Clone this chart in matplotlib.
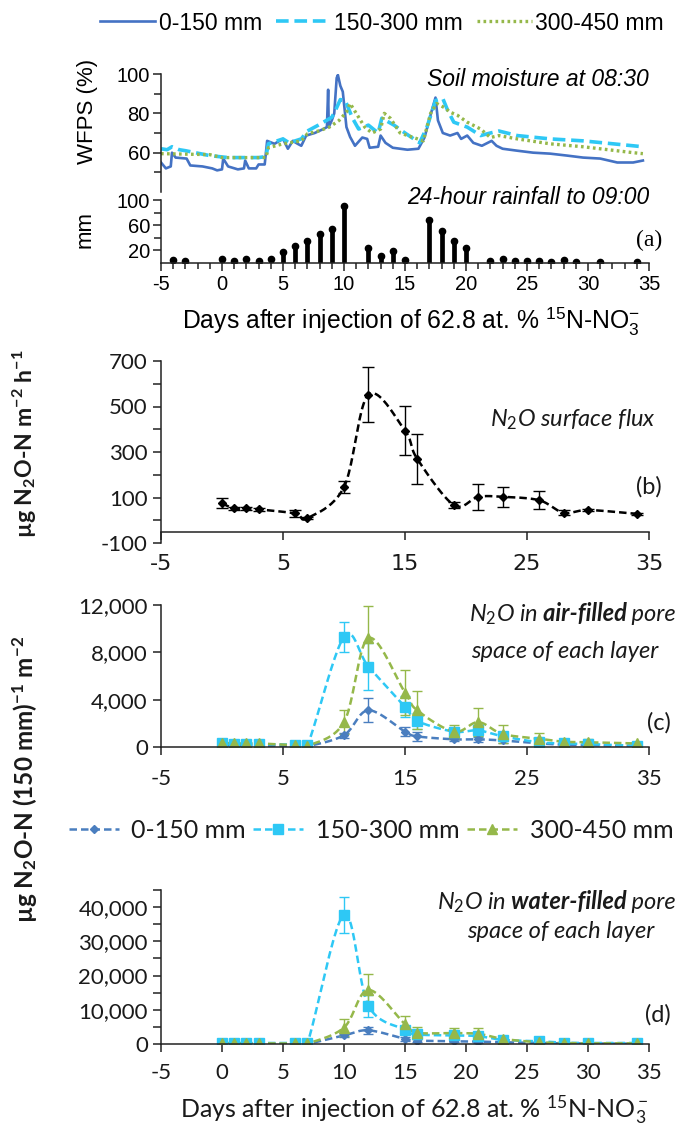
import numpy as np
import matplotlib
matplotlib.use("Agg")
import matplotlib.pyplot as plt
from matplotlib.ticker import MultipleLocator, FixedLocator, FuncFormatter
from matplotlib.lines import Line2D

plt.rcParams['mathtext.fontset'] = 'custom'
plt.rcParams['mathtext.rm'] = 'Lato'
plt.rcParams['mathtext.it'] = 'Lato:italic'
plt.rcParams['mathtext.bf'] = 'Lato:bold'
plt.rcParams['mathtext.sf'] = 'Liberation Sans'
plt.rcParams['axes.unicode_minus'] = False

# ---------------- data ----------------
# (a) WFPS (%) knots (day, value)
wfps_0150_day = [-5, -4.6, -4.2, -4.1, -3.8, -2.9, -2.6, -1.6, -0.8, -0.4, 0.0, 0.1, 0.5, 1.3, 1.8, 1.9, 2.2,
                 2.8, 3.0, 3.5, 3.7, 4.3, 5.0, 5.4, 5.8, 6.2, 6.5, 6.9, 7.6, 8.3, 8.6, 8.7, 8.75, 9.0, 9.2,
                 9.4, 9.5, 9.7, 9.9, 10.2, 10.5, 10.9, 11.5, 11.9, 12.1, 12.8, 13.0, 13.4, 14.0, 15.2, 16.1,
                 16.6, 17.2, 17.5, 17.7, 18.1, 18.7, 19.3, 19.6, 20.1, 20.6, 21.3, 22.1, 22.5, 23.0, 24.2,
                 25.5, 26.9, 28.3, 29.6, 31.0, 32.4, 33.7, 34.5]
wfps_0150 = [55, 52, 53, 60, 57.5, 57, 53.5, 53, 52, 51, 51.5, 57, 53, 51.5, 52, 56, 52,
             52, 54, 54, 66, 64.5, 67, 62, 66, 64.5, 63.5, 68.7, 70, 72, 73, 92, 73, 76.4, 80,
             98, 99.5, 94, 91, 73, 68, 63.5, 67.7, 67, 62.5, 63, 68.7, 65, 62.5, 61.5, 62,
             67.7, 81.5, 88, 76.4, 70, 68.7, 70, 67, 68.7, 65, 63.5, 66, 63.5, 62, 61,
             60, 59.5, 58.5, 57.5, 57, 55, 55, 56]
wfps_150300_day = [-5, -4.5, -4.1, -3.5, -3.0, -1.0, 0.5, 3.0, 3.6, 3.8, 5.0, 5.5, 6.5, 7.0, 7.9, 9.0, 9.3,
                   9.7, 10.1, 10.7, 11.2, 12.0, 12.8, 13.1, 14.1, 15.0, 16.2, 16.8, 17.5, 18.1, 18.5, 19.0,
                   20.1, 21.2, 22.0, 22.7, 24.2, 26.9, 29.6, 33.7, 34.5]
wfps_150300 = [62, 61.5, 63, 61.5, 61, 58.5, 57.5, 57.5, 58, 64.5, 67, 65, 67, 71, 74, 78, 81.5,
               87, 86.5, 77.5, 72, 74, 70, 77.5, 74, 70, 65, 73, 86.5, 87.5, 81.5, 75.5,
               73, 68.7, 70, 71, 68.7, 67, 66, 63.5, 63]
wfps_300450_day = [-5, -1.0, 0.0, 3.0, 3.6, 3.8, 5.0, 6.5, 7.0, 7.9, 8.8, 9.6, 10.2, 10.5, 11.1, 11.7, 12.3,
                   13.0, 13.3, 13.8, 14.6, 15.7, 16.5, 17.1, 17.6, 18.2, 18.7, 19.3, 20.1, 21.2, 22.0,
                   22.7, 24.2, 26.9, 29.6, 33.7, 34.5]
wfps_300450 = [59.5, 59, 57.5, 57.5, 57.5, 62.5, 64.5, 66, 69.6, 71, 73, 76.4, 80.6, 85, 79, 73, 70,
               72, 80, 77.5, 70, 67.7, 66, 80, 85, 83, 80.6, 79, 75.5, 72, 67.7,
               68.7, 67, 64.5, 63, 60, 59.5]

# (a) 24-hour rainfall (mm)
rain_day = [-4, -3, 0, 1, 2, 3, 4, 5, 6, 7, 8, 9, 10, 12, 13, 14, 15, 17, 18, 19, 20,
            22, 23, 24, 25, 26, 27, 28, 29, 31, 34]
rain_mm = [4, 3, 6, 3, 6, 2, 6, 17, 26, 34, 46, 53, 90, 24, 11, 18, 4, 68, 50, 35, 23,
           2, 6, 2, 2, 2, 1, 4, 1, 1, 1]

# (b)-(d) sampling days
days = [0, 1, 2, 3, 6, 7, 10, 12, 15, 16, 19, 21, 23, 26, 28, 30, 34]

# (b) N2O surface flux
flux = [74, 52, 52, 48, 30, 9, 146, 552, 393, 270, 67, 103, 103, 88, 33, 45, 28]
flux_err = [22, 8, 8, 8, 15, 5, 25, 120, 108, 111, 12, 56, 44, 40, 12, 6, 5]

# (c) N2O in air-filled pore space
c_0150 = [150, 120, 120, 120, 80, 60, 1000, 3100, 1300, 900, 650, 650, 550, 300, 200, 150, 100]
c_0150_err = [50, 30, 30, 30, 20, 20, 200, 1000, 400, 400, 150, 200, 200, 100, 50, 50, 30]
c_150300 = [300, 250, 250, 250, 200, 150, 9300, 6800, 3400, 2200, 1300, 1400, 900, 400, 300, 250, 100]
c_150300_err = [100, 80, 80, 80, 50, 50, 1300, 2000, 900, 700, 300, 500, 300, 150, 80, 80, 30]
c_300450 = [350, 300, 300, 300, 150, 100, 2100, 9200, 4600, 3100, 1300, 2100, 1100, 700, 450, 400, 300]
c_300450_err = [100, 80, 80, 80, 50, 50, 1000, 2700, 1900, 1600, 600, 1200, 800, 500, 200, 300, 100]

# (d) N2O in water-filled pore space
d_0150 = [100, 80, 80, 80, 60, 50, 2500, 4000, 1500, 1000, 800, 700, 500, 300, 200, 150, 100]
d_0150_err = [50, 30, 30, 30, 20, 20, 500, 1000, 500, 400, 300, 300, 200, 100, 50, 50, 30]
d_150300 = [300, 300, 300, 300, 300, 300, 37800, 11200, 4200, 2800, 2500, 2300, 1200, 800, 400, 300, 300]
d_150300_err = [100, 100, 100, 100, 100, 100, 5300, 3200, 800, 600, 500, 500, 300, 200, 100, 100, 100]
d_300450 = [200, 200, 200, 200, 150, 150, 4800, 15800, 5800, 3300, 3200, 3000, 1500, 500, 300, 200, 200]
d_300450_err = [100, 100, 100, 100, 50, 50, 2500, 4600, 2500, 1800, 1500, 1700, 800, 300, 100, 100, 100]

layer_labels = ['0-150 mm', '150-300 mm', '300-450 mm']

# ---------------- styles ----------------
W, H, DPI = 676, 1127, 100
C_DARK = '#4A7EBF'
C_CYAN = '#2EC8F5'
C_GREEN = '#95B84A'
C_A_BLUE = '#4472C4'
AX_COL = '#222222'
TXT_COL = '#1a1a1a'
ARIAL = 'Liberation Sans'
CAL = 'Lato'


def fx(x):
    return x / W


def fy(y):
    return 1 - y / H


def axrect(left, top, right, bottom):
    return [fx(left), fy(bottom), fx(right) - fx(left), (bottom - top) / H]


def smooth(x, y, n=24):
    P = np.column_stack([np.asarray(x, float), np.asarray(y, float)])
    out = []
    for i in range(len(P) - 1):
        p0 = P[i - 1] if i > 0 else P[i]
        p1, p2 = P[i], P[i + 1]
        p3 = P[i + 2] if i + 2 < len(P) else P[i + 1]
        c1 = p1 + (p2 - p0) / 6.0
        c2 = p2 - (p3 - p1) / 6.0
        t = np.linspace(0, 1, n)[:, None]
        seg = (1 - t) ** 3 * p1 + 3 * (1 - t) ** 2 * t * c1 + 3 * (1 - t) * t ** 2 * c2 + t ** 3 * p2
        out.append(seg if i == 0 else seg[1:])
    s = np.vstack(out)
    return s[:, 0], s[:, 1]


fig = plt.figure(figsize=(W / DPI, H / DPI), dpi=DPI)

L, R = 161, 649

# ---------- (a) WFPS ----------
axw = fig.add_axes(axrect(L, 74, R, 192))
axw.plot(wfps_0150_day, wfps_0150, color=C_A_BLUE, lw=1.9, label=layer_labels[0])
axw.plot(wfps_150300_day, wfps_150300, color=C_CYAN, lw=2.6, ls=(0, (3.5, 1.6)), label=layer_labels[1])
axw.plot(wfps_300450_day, wfps_300450, color=C_GREEN, lw=2.4, ls=(0, (0.8, 1.0)), label=layer_labels[2])
axw.set_xlim(-5, 35)
axw.set_ylim(40, 100)
for s in ['top', 'right', 'bottom']:
    axw.spines[s].set_visible(False)
axw.spines['left'].set_color(AX_COL)
axw.spines['left'].set_linewidth(1.1)
axw.set_xticks([])
axw.yaxis.set_major_locator(FixedLocator([60, 80, 100]))
axw.yaxis.set_minor_locator(FixedLocator([50, 70, 90]))
axw.tick_params(axis='y', which='major', length=6, width=1.1, color=AX_COL, labelsize=14.5, pad=2,
                labelcolor='black')
axw.tick_params(axis='y', which='minor', length=5, width=1.1, color=AX_COL)
for lab in axw.get_yticklabels():
    lab.set_fontfamily(ARIAL)
axw.patch.set_alpha(0)

# ---------- (a) rainfall ----------
axr = fig.add_axes(axrect(L, 200, R, 262.5))
axr.vlines(rain_day, 0, rain_mm, color='black', lw=3.4)
axr.plot(rain_day, rain_mm, 'o', color='black', ms=4.5)
axr.set_xlim(-5, 35)
axr.set_ylim(0, 100)
for s in ['top', 'right']:
    axr.spines[s].set_visible(False)
for s in ['left', 'bottom']:
    axr.spines[s].set_color(AX_COL)
    axr.spines[s].set_linewidth(1.1)
axr.yaxis.set_major_locator(FixedLocator([20, 60, 100]))
axr.yaxis.set_minor_locator(FixedLocator([40, 80]))
axr.xaxis.set_major_locator(MultipleLocator(5))
axr.xaxis.set_minor_locator(MultipleLocator(1))
axr.tick_params(axis='y', which='major', length=6, width=1.1, color=AX_COL, labelsize=14.5, pad=2)
axr.tick_params(axis='y', which='minor', length=5, width=1.1, color=AX_COL)
axr.tick_params(axis='x', which='major', length=6, width=1.1, color=AX_COL, labelsize=14.5, pad=3)
axr.tick_params(axis='x', which='minor', length=4, width=1.1, color=AX_COL)
axr.set_xticks(range(-5, 36, 5))
axr.set_xticklabels([str(v) for v in range(-5, 36, 5)])
for lab in axr.get_yticklabels() + axr.get_xticklabels():
    lab.set_fontfamily(ARIAL)

fig.text(fx(87), fy(111), 'WFPS (%)', rotation=90, ha='center', va='center', fontsize=16,
         family=ARIAL, color='black')
fig.text(fx(85), fy(230), 'mm', rotation=90, ha='center', va='center', fontsize=16,
         family=ARIAL, color='black')
fig.text(fx(649), fy(80), 'Soil moisture at 08:30', ha='right', va='center', fontsize=16.5,
         family=ARIAL, style='italic', color='black')
fig.text(fx(649), fy(198), '24-hour rainfall to 09:00', ha='right', va='center', fontsize=16.5,
         family=ARIAL, style='italic', color='black')
fig.text(fx(662), fy(240), '(a)', ha='right', va='center', fontsize=17, family='Liberation Serif',
         color='black')
fig.text(fx(411), fy(322), r'Days after injection of 62.8 at. % $^{\mathsf{15}}$N-NO$_{\mathsf{3}}^{\mathsf{-}}$',
         ha='center', va='center', fontsize=17.8, family=ARIAL, color='black')

fig.legend(handles=axw.get_lines(), labels=layer_labels, loc='center', bbox_to_anchor=(fx(382), fy(23)),
           ncol=3, frameon=False, handlelength=2.4, handletextpad=0.15, columnspacing=0.6,
           prop={'family': ARIAL, 'size': 16.5})


# ---------- helper for (b)-(d) ----------
def style_axes(ax, xlabels_all=False):
    for s in ['top', 'right']:
        ax.spines[s].set_visible(False)
    for s in ['left', 'bottom']:
        ax.spines[s].set_color(AX_COL)
        ax.spines[s].set_linewidth(1.1)
    ax.set_xlim(-5, 35)
    if xlabels_all:
        ax.set_xticks(range(-5, 36, 5))
    else:
        ax.set_xticks(range(-5, 36, 10))
    ax.tick_params(axis='both', which='major', length=6, width=1.1, color=AX_COL, labelsize=16,
                   labelcolor=TXT_COL)
    for lab in ax.get_xticklabels() + ax.get_yticklabels():
        lab.set_fontfamily(CAL)


# ---------- (b) ----------
axb = fig.add_axes(axrect(L, 361, R, 543))
xs, ys = smooth(days, flux)
axb.plot(xs, ys, color='black', lw=1.8, ls=(0, (3, 1.6)))
axb.errorbar(days, flux, yerr=flux_err, fmt='D', color='black', ms=4, ecolor='black', elinewidth=1,
             capsize=4, capthick=1)
style_axes(axb)
axb.set_ylim(-100, 700)
axb.spines['bottom'].set_position(('data', -50))
axb.set_yticks(range(-100, 701, 100))
axb.set_yticklabels([str(v) if (v + 100) % 200 == 0 else '' for v in range(-100, 701, 100)])
for lab in axb.get_yticklabels():
    lab.set_fontfamily(CAL)
axb.tick_params(axis='x', pad=10)
fig.text(fx(656), fy(420), r'N$_2$O surface flux', ha='right', va='center', fontsize=17, family=CAL,
         style='italic', color=TXT_COL)
fig.text(fx(662), fy(487), '(b)', ha='right', va='center', fontsize=17, family=CAL, color=TXT_COL)
fig.text(fx(25), fy(444), r'µg N$_\mathbf{2}$O-N m$^\mathbf{-2}$ h$^\mathbf{-1}$', rotation=90, ha='center',
         va='center', fontsize=16.6, family=CAL, fontweight='bold', color=TXT_COL)

comma = FuncFormatter(lambda v, p: f'{v:,.0f}')


def layer_plot(ax, vals, errs):
    cols = [C_DARK, C_CYAN, C_GREEN]
    marks = ['D', 's', '^']
    sizes = [4, 6.5, 6.5]
    hs = []
    for v, e, c, m, ms in zip(vals, errs, cols, marks, sizes):
        xs, ys = smooth(days, v)
        ax.plot(xs, ys, color=c, lw=1.8, ls=(0, (3, 1.6)))
        ax.errorbar(days, v, yerr=e, fmt=m, color=c, ms=ms, ecolor=c, elinewidth=1, capsize=3.5,
                    capthick=1)
        hs.append(Line2D([], [], color=c, lw=1.8, ls=(0, (3, 1.6)), marker=m, ms=ms))
    return hs


# ---------- (c) ----------
axc = fig.add_axes(axrect(L, 605, R, 747))
handles = layer_plot(axc, [c_0150, c_150300, c_300450], [c_0150_err, c_150300_err, c_300450_err])
axc.set_ylim(0, 12000)
style_axes(axc)
axc.set_yticks([0, 4000, 8000, 12000])
axc.yaxis.set_major_formatter(comma)
for lab in axc.get_yticklabels():
    lab.set_fontfamily(CAL)
axc.tick_params(axis='x', pad=10)


def rich_line(pieces, x_right, y_base, size):
    r = fig.canvas.get_renderer()
    ts = []
    for txt, st, wt in pieces:
        t = fig.text(0, fy(y_base), txt, ha='left', va='baseline', fontsize=size, family=CAL, style=st,
                     fontweight=wt, color=TXT_COL)
        ts.append(t)
    widths = [t.get_window_extent(r).width for t in ts]
    x = x_right - sum(widths)
    for t, w in zip(ts, widths):
        t.set_x(fx(x))
        x += w


rich_line([(r'N$_2$O in', 'italic', 'normal'), (' air-filled', 'italic', 'bold'), (' pore', 'italic', 'normal')],
          676, 621, 17)
rich_line([('space of each layer', 'italic', 'normal')], 658, 658, 17)
fig.text(fx(671), fy(723), '(c)', ha='right', va='center', fontsize=17, family=CAL, color=TXT_COL)

# ---------- (d) ----------
axd = fig.add_axes(axrect(L, 890, R, 1044))
layer_plot(axd, [d_0150, d_150300, d_300450], [d_0150_err, d_150300_err, d_300450_err])
axd.set_ylim(0, 45000)
style_axes(axd, xlabels_all=True)
axd.set_yticks(range(0, 45001, 5000))
axd.yaxis.set_major_formatter(FuncFormatter(lambda v, p: f'{v:,.0f}' if v % 10000 == 0 else ''))
for lab in axd.get_yticklabels():
    lab.set_fontfamily(CAL)
axd.tick_params(axis='x', pad=8)

rich_line([(r'N$_2$O in', 'italic', 'normal'), (' water-filled', 'italic', 'bold'), (' pore', 'italic', 'normal')],
          676, 909, 17)
rich_line([('space of each layer', 'italic', 'normal')], 654, 938, 17)
fig.text(fx(671), fy(1015), '(d)', ha='right', va='center', fontsize=17, family=CAL, color=TXT_COL)

fig.text(fx(414), fy(1109), r'Days after injection of 62.8 at. % $^{15}$N-NO$_3^-$', ha='center', va='center',
         fontsize=18, family=CAL, color=TXT_COL)
fig.text(fx(25), fy(779), r'µg N$_\mathbf{2}$O-N (150 mm)$^\mathbf{-1}$ m$^\mathbf{-2}$', rotation=90,
         ha='center', va='center', fontsize=17.5, family=CAL, fontweight='bold', color=TXT_COL)

fig.legend(handles=handles, labels=layer_labels, loc='center', bbox_to_anchor=(fx(371), fy(830)),
           ncol=3, frameon=False, handlelength=2.0, handletextpad=0.5, columnspacing=0.3,
           prop={'family': CAL, 'size': 18}, labelcolor=TXT_COL)

fig.savefig('out.png', dpi=DPI)
